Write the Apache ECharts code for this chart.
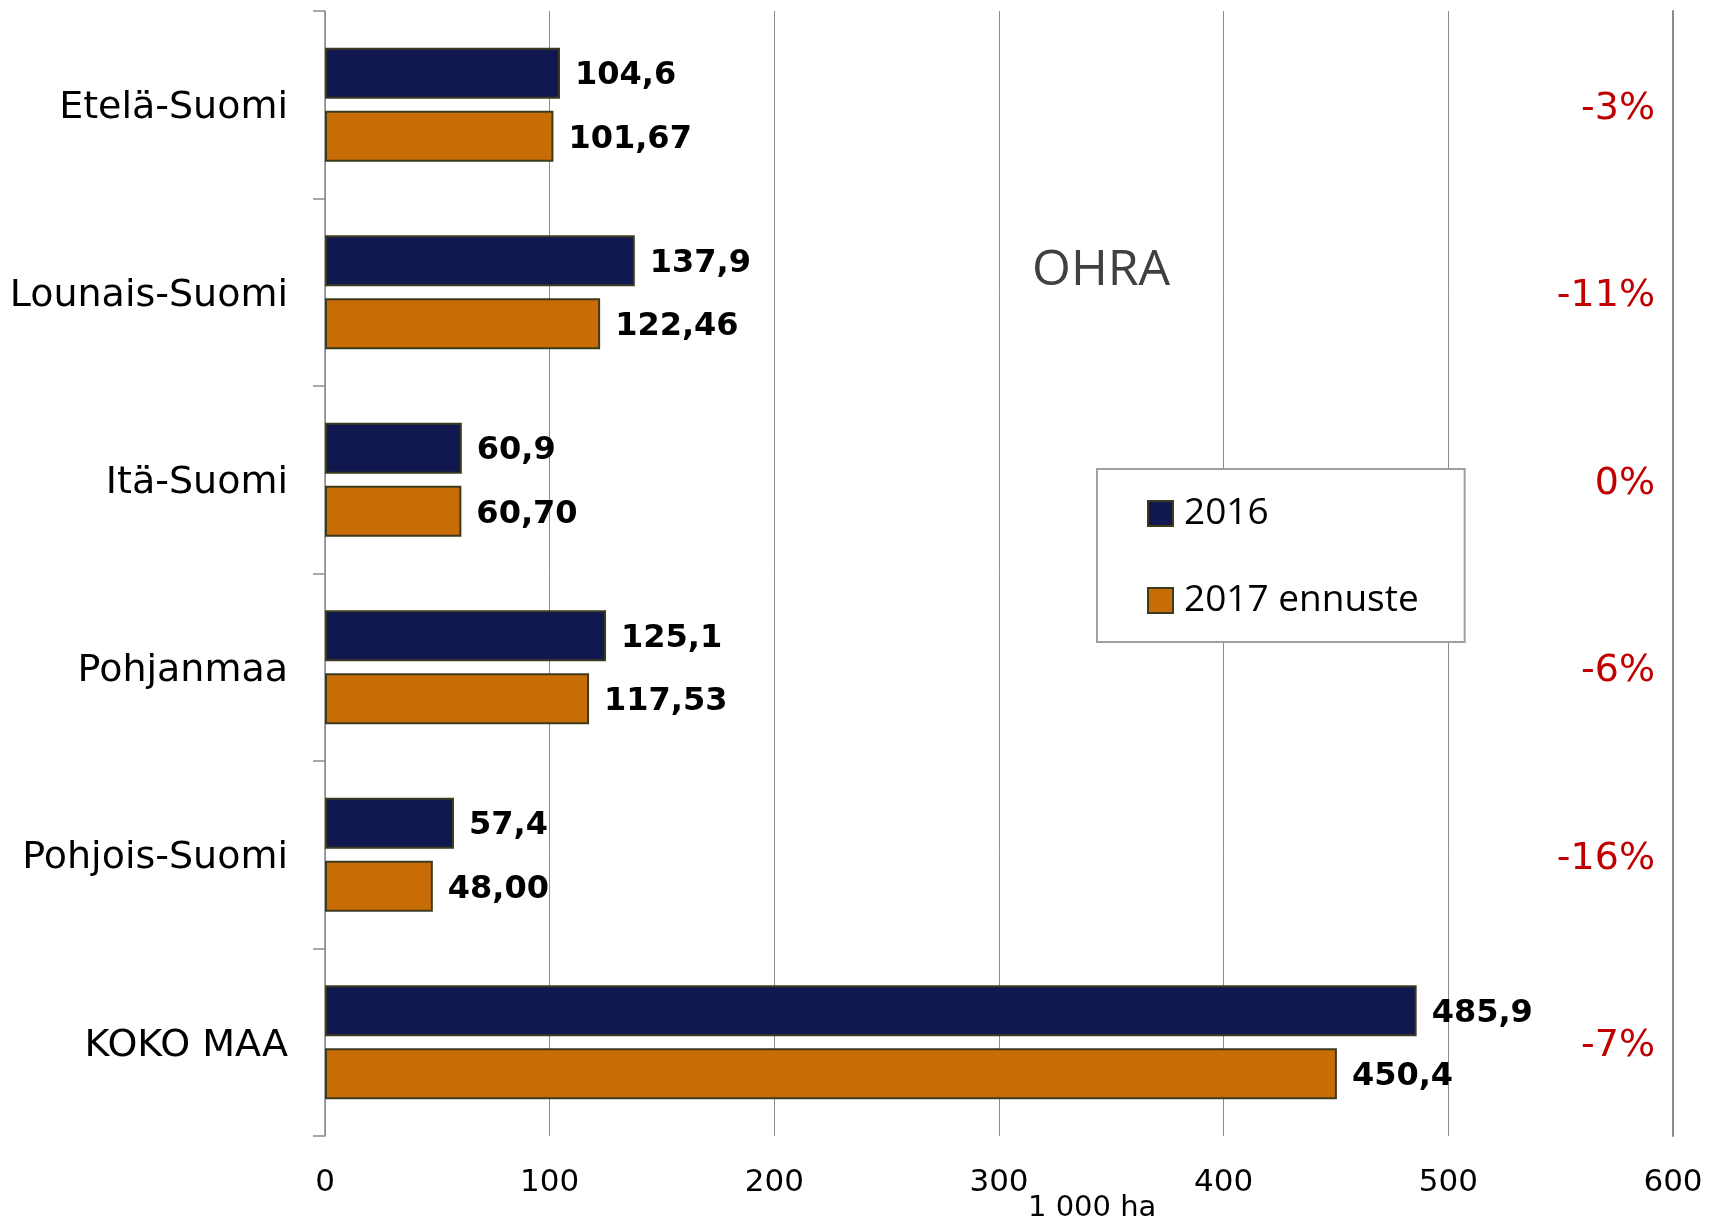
<!DOCTYPE html>
<html lang="fi" style="height: 100%">
<head>
  <meta charset="utf-8">
  <title>OHRA</title>
</head>
<body style="height: 100%; margin: 0; background: #fff">
  <div id="container" style="width: 1721px; height: 1220px"></div>

  <script type="text/javascript" src="https://cdn.jsdelivr.net/npm/echarts@6/dist/echarts.min.js"></script>

  <script type="text/javascript">
    // data
    var regions = ['Etelä-Suomi', 'Lounais-Suomi', 'Itä-Suomi', 'Pohjanmaa', 'Pohjois-Suomi', 'KOKO MAA'];
    var values2016 = [104.6, 137.9, 60.9, 125.1, 57.4, 485.9];
    var values2017 = [101.67, 122.46, 60.70, 117.53, 48.00, 450.4];
    var decimals2017 = [2, 2, 2, 2, 2, 1];
    var changeLabels = ['-3%', '-11%', '0%', '-6%', '-16%', '-7%'];
    var xTicks = [0, 100, 200, 300, 400, 500, 600];

    var dom = document.getElementById('container');
    var myChart = echarts.init(dom, null, { renderer: 'canvas' });

    var baseFont = 'DejaVu Sans';
    var barBorder = '#3d3b1f';

    function fmt(v, d) {
      return v.toFixed(d).replace('.', ',');
    }

    var option = {
      backgroundColor: '#fff',
      animation: false,
      title: [
        {
          text: 'OHRA',
          left: 1032,
          top: 246,
          padding: 0,
          textStyle: { fontFamily: 'Open Sans', fontSize: 50, fontWeight: 'normal', color: '#404040' }
        },
        {
          text: '1 000 ha',
          left: 1028,
          top: 1194,
          padding: 0,
          textStyle: { fontFamily: baseFont, fontSize: 29, fontWeight: 'normal', color: '#000' }
        }
      ],
      legend: {
        orient: 'vertical',
        left: 1097,
        top: 469,
        padding: [26, 46, 23, 50],
        itemGap: 50,
        itemWidth: 25,
        itemHeight: 25,
        icon: 'rect',
        backgroundColor: '#fff',
        borderColor: '#a0a0a0',
        borderWidth: 2,
        textStyle: { fontFamily: 'Open Sans', fontSize: 37, color: '#000', padding: [0, 0, 0, 6] },
        data: ['2016', '2017 ennuste']
      },
      grid: {
        left: 325,
        right: 48,
        top: 11,
        bottom: 84,
        containLabel: false
      },
      xAxis: {
        type: 'value',
        min: xTicks[0],
        max: xTicks[xTicks.length - 1],
        interval: 100,
        axisLine: { show: false },
        axisTick: { show: false },
        axisLabel: { fontFamily: baseFont, fontSize: 31, color: '#000', margin: 31 },
        splitLine: { lineStyle: { color: '#8c8c8c', width: 1 } }
      },
      yAxis: [
        {
          type: 'category',
          data: regions,
          inverse: true,
          axisLine: { show: true, lineStyle: { color: '#8c8c8c', width: 1.5 } },
          axisTick: { show: true, length: 12, lineStyle: { color: '#8c8c8c', width: 1.5 } },
          // short line box pushes the text a little below the band centre, as in the original
          axisLabel: { fontFamily: baseFont, fontSize: 38, color: '#000', margin: 37, verticalAlign: 'top', lineHeight: 7 }
        },
        {
          type: 'category',
          data: changeLabels,
          inverse: true,
          position: 'right',
          axisLine: { show: true, lineStyle: { color: '#8c8c8c', width: 2 } },
          axisTick: { show: false },
          axisLabel: { inside: true, fontFamily: baseFont, fontSize: 38, color: '#c00000', margin: 18, verticalAlign: 'top', lineHeight: 8 }
        }
      ],
      series: [
        {
          name: '2016',
          type: 'bar',
          data: values2016,
          barWidth: 51,
          barGap: '24%',
          itemStyle: { color: '#11174f', borderColor: barBorder, borderWidth: 2 },
          label: {
            show: true,
            position: 'right',
            distance: 15,
            offset: [0, 3],
            fontFamily: baseFont,
            fontSize: 32,
            fontWeight: 'bold',
            color: '#000',
            formatter: function (p) { return fmt(p.value, 1); }
          }
        },
        {
          name: '2017 ennuste',
          type: 'bar',
          data: values2017,
          barWidth: 51,
          barGap: '24%',
          itemStyle: { color: '#c86c05', borderColor: barBorder, borderWidth: 2 },
          label: {
            show: true,
            position: 'right',
            distance: 15,
            offset: [0, 3],
            fontFamily: baseFont,
            fontSize: 32,
            fontWeight: 'bold',
            color: '#000',
            formatter: function (p) { return fmt(p.value, decimals2017[p.dataIndex]); }
          }
        }
      ]
    };

    myChart.setOption(option);

    window.addEventListener('resize', function () {
      myChart.resize();
    });
  </script>
</body>
</html>
